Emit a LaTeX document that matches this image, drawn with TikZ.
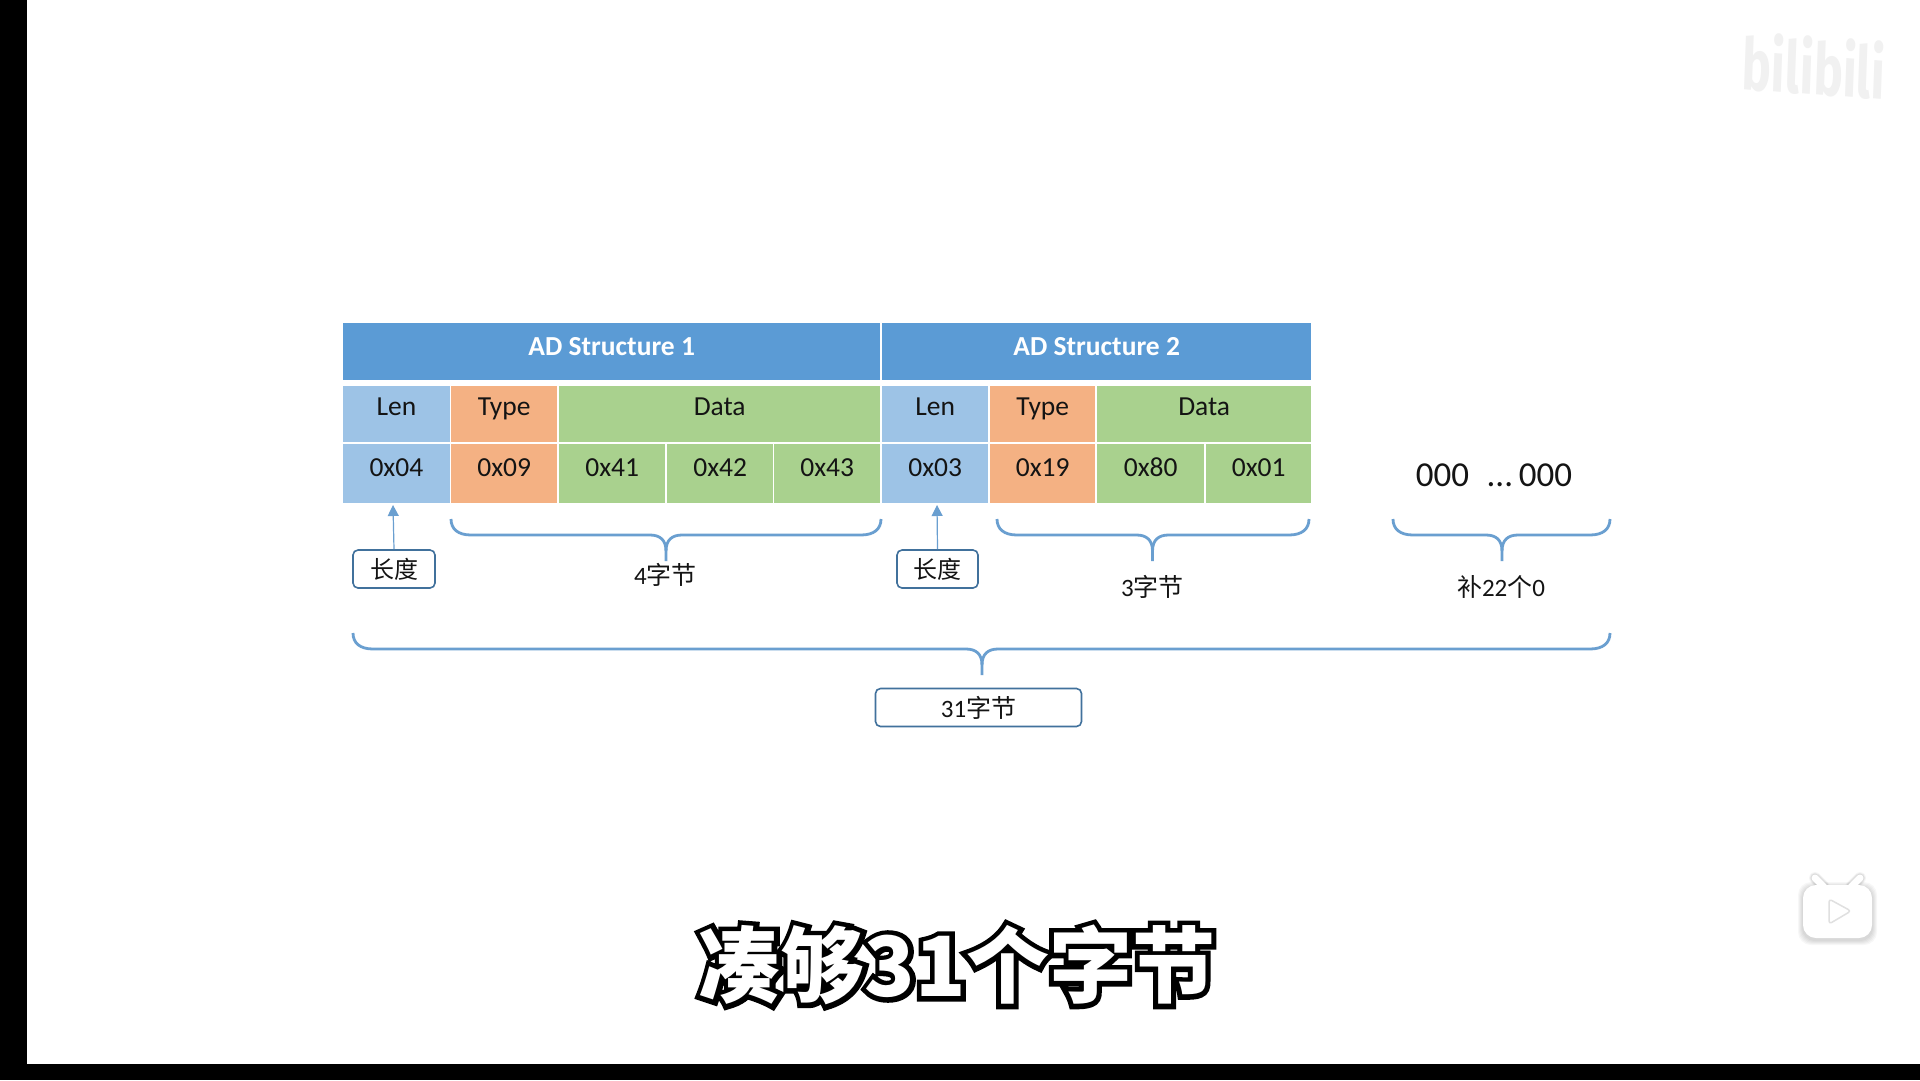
\documentclass[tikz,border=0pt]{standalone}
\usepackage{fontspec}
\usepackage{xcolor}
\usetikzlibrary{positioning,arrows.meta,calc}
\setmainfont{Carlito}
\newfontfamily\cjk{Noto Sans CJK SC}
\newfontfamily\capfill{Noto Sans CJK SC}
\newfontfamily\capedge[BoldFeatures={FakeBold=12}]{Noto Sans CJK SC}
\newfontfamily\logofont{Fira Sans}
\definecolor{headBlue}{HTML}{5B9BD5}
\definecolor{lenBlue}{HTML}{9DC3E6}
\definecolor{typeOrange}{HTML}{F4B183}
\definecolor{dataGreen}{HTML}{A9D18E}
\definecolor{lineBlue}{HTML}{6A9FD0}
\definecolor{boxBlue}{HTML}{41719C}
\definecolor{logoGray}{HTML}{F1F1F1}
\newcommand{\busbrace}[5]{% left, right, tip x, top y, bar y
    \draw[braceLine] (#1,#4) .. controls (#1,#5-6) and (#1+7,#5) .. (#1+20,#5)
        -- (#3-16,#5) .. controls (#3-6,#5) and (#3,#5+5) .. (#3,#5+16) -- (#3,#5+26);
    \draw[braceLine] (#2,#4) .. controls (#2,#5-6) and (#2-7,#5) .. (#2-20,#5)
        -- (#3+16,#5) .. controls (#3+6,#5) and (#3,#5+5) .. (#3,#5+16);
}
\begin{document}
\begin{tikzpicture}[
    x=1pt, y=-1pt,
    every node/.style={font=\fontsize{25}{28}\selectfont, text=black!92},
    cell/.style={anchor=north west, inner sep=0pt, align=center, font=\fontsize{27.5}{30}\selectfont},
    headCell/.style={cell, fill=headBlue, minimum height=56.6pt, text height=32.3pt, text depth=24.3pt,
        text=white, font=\fontsize{27.5}{30}\selectfont\bfseries},
    nameCell/.style={cell, minimum height=56.4pt, text height=29.5pt, text depth=26.9pt},
    valueCell/.style={cell, minimum height=59pt, text height=33.4pt, text depth=25.6pt},
    labelBox/.style={draw=boxBlue, line width=1.6pt, rounded corners=5pt, fill=white, inner sep=0pt, minimum height=38pt},
    braceLine/.style={draw=lineBlue, line width=2.8pt},
    lenArrow/.style={draw=lineBlue, line width=1.2pt, -{Triangle[length=11pt,width=11pt]}}
]
    \useasboundingbox (0,0) rectangle (1920,1080);
    \fill[white] (0,0) rectangle (1920,1080);

    % Video frame
    \fill[black] (0,0) rectangle (27,1080);
    \fill[black] (0,1064) rectangle (1920,1080);

    % Headers
    \node[headCell, minimum width=537pt] (headA) at (343,322.7) {AD Structure 1};
    \node[headCell, minimum width=429pt] (headB) at (882,322.7) {AD Structure 2};

    % Names, structure 1
    \node[nameCell, fill=lenBlue, minimum width=106.4pt] (lenA) at (343,385.3) {Len};
    \node[nameCell, fill=typeOrange, minimum width=106pt] (typeA) at (451,385.3) {Type};
    \node[nameCell, fill=dataGreen, minimum width=321pt] (dataA) at (559,385.3) {Data};

    % Names, structure 2
    \node[nameCell, fill=lenBlue, minimum width=106pt] (lenB) at (882,385.3) {Len};
    \node[nameCell, fill=typeOrange, minimum width=105pt] (typeB) at (990,385.3) {Type};
    \node[nameCell, fill=dataGreen, minimum width=214pt] (dataB) at (1097,385.3) {Data};

    % Values, structure 1
    \node[valueCell, fill=lenBlue, minimum width=106.4pt] (lenValA) at (343,443.3) {0x04};
    \node[valueCell, fill=typeOrange, minimum width=106pt] (typeValA) at (451,443.3) {0x09};
    \node[valueCell, fill=dataGreen, minimum width=106pt] (dataValA) at (559,443.3) {0x41};
    \node[valueCell, fill=dataGreen, minimum width=106pt] (dataValB) at (667,443.3) {0x42};
    \node[valueCell, fill=dataGreen, minimum width=106pt] (dataValC) at (774,443.3) {0x43};

    % Values, structure 2
    \node[valueCell, fill=lenBlue, minimum width=106pt] (lenValB) at (882,443.3) {0x03};
    \node[valueCell, fill=typeOrange, minimum width=105pt] (typeValB) at (990,443.3) {0x19};
    \node[valueCell, fill=dataGreen, minimum width=107pt] (dataValD) at (1097,443.3) {0x80};
    \node[valueCell, fill=dataGreen, minimum width=105pt] (dataValE) at (1206,443.3) {0x01};

    % Padding
    \node[font=\fontsize{35}{40}\selectfont] (padZeros) at (1494,475) {000\,\,\,...\,000};

    % Length boxes and arrows
    \node[labelBox, minimum width=82pt, font=\fontsize{24}{28}\selectfont] (lenBoxA) at (394,569) {{\cjk 长度}};
    \node[labelBox, minimum width=81pt, font=\fontsize{24}{28}\selectfont] (lenBoxB) at (937.5,569) {{\cjk 长度}};
    \coordinate (lenTipA) at (393,505);
    \coordinate (lenTipB) at (937,505);
    \draw[lenArrow] (lenBoxA.north) -- (lenTipA);
    \draw[lenArrow] (lenBoxB.north) -- (lenTipB);

    % Braces
    \busbrace{451}{881}{666}{519}{535}
    \busbrace{997}{1309}{1152.5}{519}{535}
    \busbrace{1393}{1610}{1502}{519}{535}
    \busbrace{353}{1610}{982}{633}{649}

    % Brace labels
    \node (countA) at (665.5,575) {4{\cjk 字节}};
    \node (countB) at (1152.5,587) {3{\cjk 字节}};
    \node (countPad) at (1501,587) {{\cjk 补}22{\cjk 个}0};
    \node[labelBox, minimum width=206pt] (countAll) at (978.5,707.5) {31{\cjk 字节}};

    % Watermark and player icon
    \node[text=logoGray, font=\logofont\bfseries\fontsize{72}{80}\selectfont, transform shape, xscale=0.68, rotate=-3, inner sep=0pt] (logoMark) at (1814,66) {bilibili};
    \foreach \d in {5,4,3,2,1}{
        \fill[black, opacity=0.03, rounded corners=13pt] (1803-\d,885-\d+2) rectangle (1872+\d,938+\d+2);
        \draw[black, opacity=0.03, line width=7pt+\d pt, line cap=round] (1824,887) -- (1815,878);
        \draw[black, opacity=0.03, line width=7pt+\d pt, line cap=round] (1851,887) -- (1860,878);
    }
    \draw[white, line width=7pt, line cap=round] (1824,887) -- (1815,878);
    \draw[white, line width=7pt, line cap=round] (1851,887) -- (1860,878);
    \fill[white, rounded corners=13pt] (1803,885) rectangle (1872,938);
    \draw[black!12, fill=white, line width=1.5pt, line join=round, rounded corners=3pt] (1829,899) -- (1851,911) -- (1829,924) -- cycle;

    % Subtitle
    \node[font=\capedge\bfseries\fontsize{83}{90}\selectfont, text=black] (subEdge) at (957,965) {凑够31个字节};
    \node[font=\capfill\bfseries\fontsize{83}{90}\selectfont, text=white] (subFill) at (957,965) {凑够31个字节};
\end{tikzpicture}
\end{document}
